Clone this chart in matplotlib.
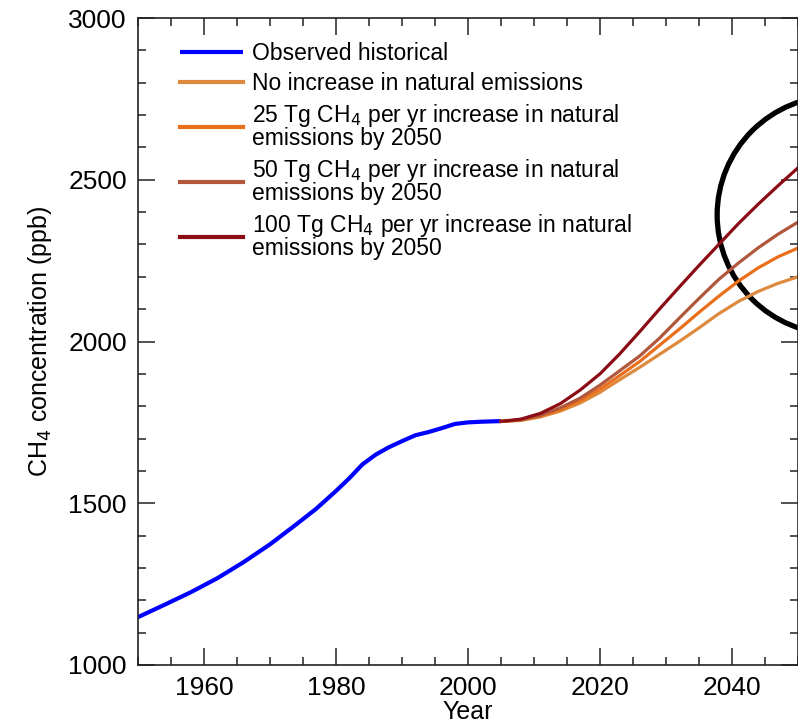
import numpy as np
import matplotlib
matplotlib.use("Agg")
import matplotlib.pyplot as plt
from matplotlib.patches import Ellipse
from matplotlib.ticker import MultipleLocator

plt.rcParams['font.family'] = ['Liberation Sans', 'DejaVu Sans']

# observed historical CH4 (ppb)
obs_years = [1950, 1954, 1958, 1962, 1966, 1970, 1974, 1977, 1980, 1982, 1984, 1986,
             1988, 1990, 1992, 1994, 1996, 1998, 2000, 2002, 2005]
obs_vals = [1148, 1186, 1225, 1268, 1318, 1373, 1435, 1483, 1538, 1577, 1620, 1650,
            1673, 1692, 1710, 1720, 1732, 1745, 1750, 1752, 1754]

# projections
proj_years = [2005, 2008, 2011, 2014, 2017, 2020, 2023, 2026, 2029, 2032, 2035,
              2038, 2041, 2044, 2047, 2050]
no_inc = [1753, 1756, 1767, 1785, 1810, 1843, 1882, 1920, 1960, 2000, 2042,
          2086, 2124, 2155, 2180, 2200]
inc_25 = [1753, 1757, 1770, 1790, 1818, 1853, 1895, 1938, 1988, 2038, 2090,
          2140, 2187, 2228, 2262, 2289]
inc_50 = [1753, 1758, 1772, 1795, 1825, 1865, 1910, 1955, 2010, 2072, 2133,
          2192, 2243, 2290, 2332, 2369]
inc_100 = [1753, 1760, 1778, 1808, 1850, 1900, 1962, 2030, 2100, 2168, 2235,
           2300, 2365, 2425, 2482, 2537]

labels = ["Observed historical",
          "No increase in natural emissions",
          "25 Tg CH$_4$ per yr increase in natural\nemissions by 2050",
          "50 Tg CH$_4$ per yr increase in natural\nemissions by 2050",
          "100 Tg CH$_4$ per yr increase in natural\nemissions by 2050"]
colors = ["#0000ff", "#de8a3e", "#ea6f1a", "#b0573c", "#8c0c16"]

fig = plt.figure(figsize=(7.98, 7.25), dpi=100)
ax = fig.add_axes([138/798, 60/725, 660/798, 647/725])

ax.plot(obs_years, obs_vals, color=colors[0], lw=3.0, label=labels[0], solid_capstyle='butt')
series = [no_inc, inc_25, inc_50, inc_100]
for s, lab, c in zip(series, labels[1:], colors[1:]):
    ax.plot(proj_years, s, color=c, lw=2.3, label=lab)

ax.set_xlim(1950, 2050)
ax.set_ylim(1000, 3000)
ax.xaxis.set_major_locator(MultipleLocator(20))
ax.xaxis.set_minor_locator(MultipleLocator(5))
ax.yaxis.set_major_locator(MultipleLocator(500))
ax.yaxis.set_minor_locator(MultipleLocator(100))
ax.tick_params(which='both', direction='in', top=True, right=True, width=1.1, color='#222222')
ax.tick_params(which='major', length=12, labelsize=19, pad=8)
ax.tick_params(which='minor', length=6)
for sp in ax.spines.values():
    sp.set_linewidth(1.2)
    sp.set_color('#222222')

ax.set_xlabel("Year", fontsize=18, labelpad=0)
ax.set_ylabel("CH$_4$ concentration (ppb)", fontsize=18, labelpad=10)

leg = ax.legend(loc='upper left', bbox_to_anchor=(0.032, 0.995), frameon=False,
                fontsize=16.5, handlelength=2.75, handletextpad=0.42,
                labelspacing=0.31)
for t in leg.get_texts():
    t.set_linespacing(0.88)
for h in leg.get_lines():
    h.set_linewidth(3.0)

circ = Ellipse((2055.8, 2391), 36.1, 736, fill=False, ec='black', lw=3.8, clip_on=False)
ax.add_patch(circ)

fig.savefig("out.png", dpi=100)
